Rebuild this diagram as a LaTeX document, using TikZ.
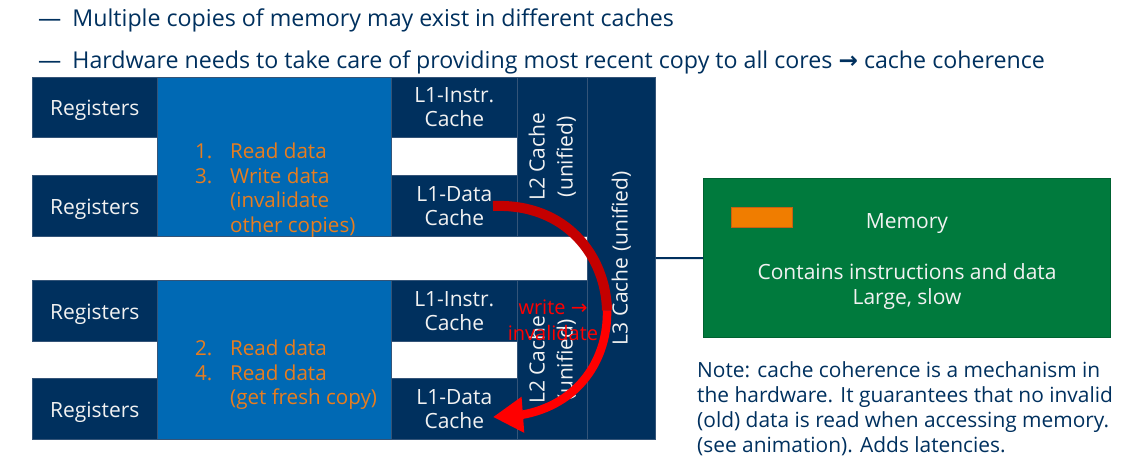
\documentclass[tikz,border=0pt]{standalone}
\usepackage{fontspec}
\setmainfont{Open Sans}
\newfontfamily\symfont{DejaVu Sans}
\usetikzlibrary{arrows.meta,bending}

\definecolor{navy}{RGB}{0,48,94}
\definecolor{boxedge}{RGB}{52,84,120}
\definecolor{coreblue}{RGB}{0,105,180}
\definecolor{memgreen}{RGB}{0,122,61}
\definecolor{memorange}{RGB}{240,125,0}
\definecolor{orangeedge}{RGB}{200,95,20}
\definecolor{txtorange}{RGB}{232,125,30}
\definecolor{cellwhite}{RGB}{242,242,242}
\definecolor{arrowdark}{RGB}{196,0,0}
\definecolor{arrowbright}{RGB}{255,0,0}

\tikzset{
  cell/.style={fill=navy, draw=boxedge, line width=0.6pt, inner sep=0pt,
    anchor=north west, align=center, text=cellwhite,
    font=\fontsize{21}{24}\selectfont},
  regcell/.style={cell, text height=19pt, text depth=2pt},
  corebox/.style={fill=coreblue, draw=boxedge, line width=0.6pt, inner sep=0pt,
    anchor=north west},
  vlabel/.style={rotate=90, align=center, text=cellwhite, inner sep=0pt,
    font=\fontsize{21}{28}\selectfont},
  steps/.style={anchor=west, align=left, text=txtorange, inner sep=0pt,
    font=\fontsize{20.6}{24.6}\selectfont},
  bullet/.style={anchor=base west, inner sep=0pt, text=navy,
    font=\fontsize{23.2}{28}\selectfont},
  memtext/.style={text=cellwhite, align=center, inner sep=0pt,
    font=\fontsize{21}{25}\selectfont},
  note/.style={anchor=north west, align=left, text=navy, inner sep=0pt,
    font=\fontsize{20.9}{25}\selectfont},
  redtext/.style={text=arrowbright, align=center, inner sep=0pt,
    font=\fontsize{20}{26}\selectfont},
}

\newcommand\stepno[1]{\makebox[35pt][l]{#1}}

\begin{document}
\begin{tikzpicture}[x=1pt,y=-1pt]
\useasboundingbox (0,0) rectangle (1126,463);

% heading bullets
\node[bullet] (b1) at (38,26) {—\hspace{11pt}Multiple copies of memory may exist in different caches};
\node[bullet] (b2) at (38,68) {—\hspace{11pt}Hardware needs to take care of providing most recent copy to all cores {\symfont\bfseries →} cache coherence};

% first core
\node[corebox, minimum width=234pt, minimum height=159pt] (core1) at (157,77) {};
\node[regcell, minimum width=125pt, minimum height=60pt] (r1) at (32,77) {Registers};
\node[regcell, minimum width=125pt, minimum height=61pt] (r2) at (32,175) {Registers};
\node[cell, minimum width=126pt, minimum height=60pt] (i1) at (391,77) {L1-Instr.\\Cache};
\node[cell, minimum width=126pt, minimum height=61pt] (d1) at (391,175) {L1-Data\\Cache};
\node[cell, minimum width=70pt, minimum height=159pt] (l2a) at (517,77) {};
\node[vlabel] (l2at) at (l2a.center) {L2 Cache\\(unified)};
\node[steps] (s1) at (195,190) {\stepno{1.}Read data\\\stepno{3.}Write data\\\hspace*{35pt}(invalidate\\\hspace*{35pt}other copies)};

% second core
\node[corebox, minimum width=234pt, minimum height=159pt] (core2) at (157,280) {};
\node[regcell, minimum width=125pt, minimum height=61pt] (r3) at (32,280) {Registers};
\node[regcell, minimum width=125pt, minimum height=61pt] (r4) at (32,378) {Registers};
\node[cell, minimum width=126pt, minimum height=61pt] (i2) at (391,280) {L1-Instr.\\Cache};
\node[cell, minimum width=126pt, minimum height=61pt] (d2) at (391,378) {L1-Data\\Cache};
\node[cell, minimum width=70pt, minimum height=159pt] (l2b) at (517,280) {};
\node[vlabel] (l2bt) at (l2b.center) {L2 Cache\\(unified)};
\node[steps] (s2) at (195,375) {\stepno{2.}Read data\\\stepno{4.}Read data\\\hspace*{35pt}(get fresh copy)};

% shared last level cache
\node[cell, minimum width=68pt, minimum height=362pt] (l3) at (587,77) {};
\node[vlabel] (l3t) at (l3.center) {L3 Cache (unified)};

% main memory
\node[fill=memgreen, draw=memgreen!80!black, line width=0.6pt, minimum width=407pt,
      minimum height=159pt, inner sep=0pt, anchor=north west] (mem) at (703,178) {};
\node[fill=memorange, draw=orangeedge, line width=0.6pt, minimum width=61pt,
      minimum height=20pt, inner sep=0pt, anchor=north west] (blk) at (731,207) {};
\node[memtext] (memt) at (907,224) {Memory};
\node[memtext] (memd) at (907,287) {Contains instructions and data\\Large, slow};
\draw[navy, line width=2pt] (l3) -- (mem);

\node[note] (nt) at (697,361) {Note: cache coherence is a mechanism in\\the hardware. It guarantees that no invalid\\(old) data is read when accessing memory.\\(see animation). Adds latencies.};

% invalidation message
\node[redtext] (inv) at (553,320) {write {\symfont →}\\invalidate};

% write-invalidate arrow from the first data cache to the second
\coordinate (aS) at (493,206);
\coordinate (aM) at (607,310.4);
\coordinate (aE) at (493,417);
\draw[arrowdark, line width=10pt] (aS) .. controls (566.5,203) and (605.75,256.5) .. (aM);
\draw[arrowbright, line width=8.5pt, -{Triangle[length=30pt,width=34pt,flex]}]
  (aM) .. controls (608.25,364.25) and (571.5,418.5) .. (aE);
\end{tikzpicture}
\end{document}
